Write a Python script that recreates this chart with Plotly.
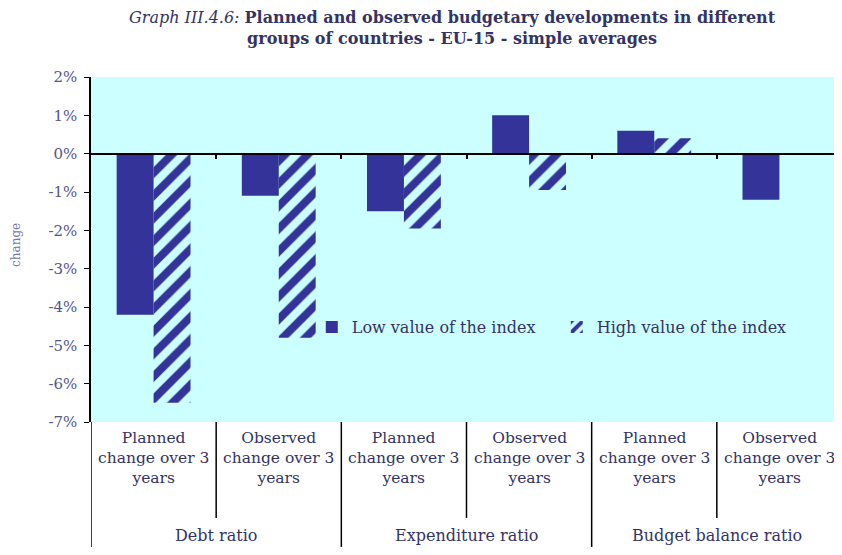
import plotly.graph_objects as go

# data (change, % points)
groups = ["Debt ratio", "Expenditure ratio", "Budget balance ratio"]
subcats = ["Planned<br>change over 3<br>years", "Observed<br>change over 3<br>years"] * 3
low_index = [-4.2, -1.1, -1.5, 1.0, 0.6, -1.2]
high_index = [-6.5, -4.8, -1.95, -0.95, 0.4, 0.0]
y_ticks = [-7, -6, -5, -4, -3, -2, -1, 0, 1, 2]
y_ticktext = ["%d%%" % v for v in y_ticks]

navy = "#333399"
cyan = "#CCFFFF"
txt = "#333366"
serif = "DejaVu Serif"

pos = list(range(len(subcats)))

fig = go.Figure()
fig.add_trace(go.Bar(
    x=pos, y=low_index, name="Low value of the index",
    marker=dict(color=navy, line_width=0),
))
fig.add_trace(go.Bar(
    x=pos, y=high_index, name="High value of the index",
    marker=dict(color="rgba(0,0,0,0)", line_width=0,
                pattern=dict(shape="/", fgcolor=navy, fgopacity=1, bgcolor="rgba(0,0,0,0)",
                             size=16, solidity=0.5, fillmode="overlay")),
))

# category labels and separators below the plot
annotations = []
shapes = []
for i, lab in enumerate(subcats):
    annotations.append(dict(text=lab, x=i, y=-0.104, xref="x", yref="paper",
                            showarrow=False, yanchor="middle",
                            font=dict(family=serif, size=15.5, color=txt)))
for g, name in enumerate(groups):
    annotations.append(dict(text=name, x=2 * g + 0.5, y=-0.328, xref="x", yref="paper",
                            showarrow=False, yanchor="middle",
                            font=dict(family=serif, size=16, color=txt)))
    shapes.append(dict(type="line", xref="x", yref="paper", x0=2 * g - 0.5, x1=2 * g - 0.5,
                       y0=0, y1=-0.362, line=dict(color="black", width=1.5)))
    shapes.append(dict(type="line", xref="x", yref="paper", x0=2 * g + 0.5, x1=2 * g + 0.5,
                       y0=0, y1=-0.278, line=dict(color="black", width=1.5)))

annotations.append(dict(
    text="<i>Graph III.4.6:</i> <b>Planned and observed budgetary developments in different</b>"
         "<br><b>groups of countries - EU-15 - simple averages</b>",
    xref="paper", yref="paper", x=0.482, y=1.1406, yanchor="middle",
    showarrow=False, font=dict(family=serif, size=16, color=txt), align="center",
))
annotations.append(dict(text="change", textangle=-90, xref="paper", yref="paper",
                        x=-0.1, y=0.513, xanchor="center", yanchor="middle",
                        showarrow=False,
                        font=dict(family=serif, size=12, color="#7777aa")))

fig.update_layout(
    width=834, height=539,
    margin=dict(l=83, r=0, t=69, b=125),
    paper_bgcolor="white", plot_bgcolor=cyan,
    font=dict(family=serif, size=16, color=txt),
    barmode="group", bargap=0.41, bargroupgap=0,
    showlegend=True,
    legend=dict(orientation="h", x=0.294, y=0.275, xanchor="left", yanchor="middle",
                bgcolor="rgba(0,0,0,0)", entrywidth=200, itemwidth=30,
                font=dict(family=serif, size=16, color=txt)),
    annotations=annotations,
    shapes=shapes,
)

# x axis sits on the zero line, ticks at category boundaries
fig.update_xaxes(
    range=[-0.5, 5.5], anchor="free", position=7 / 9,
    tickvals=[p + 0.5 for p in pos[:-1]], ticks="outside", ticklen=5,
    tickcolor="black", tickwidth=1.5, showticklabels=False,
    showline=True, linecolor="black", linewidth=1.5,
    showgrid=False, zeroline=False, automargin=False,
)
fig.update_yaxes(
    range=[-7, 2], tickvals=y_ticks, ticktext=y_ticktext, showline=True,
    linecolor="black", linewidth=1.5, ticks="outside", ticklen=5, tickcolor="black",
    showgrid=False, zeroline=False, automargin=False, ticklabelstandoff=4,
    tickfont=dict(family=serif, size=15, color="#555588"),
)

fig.write_html("out.html")
